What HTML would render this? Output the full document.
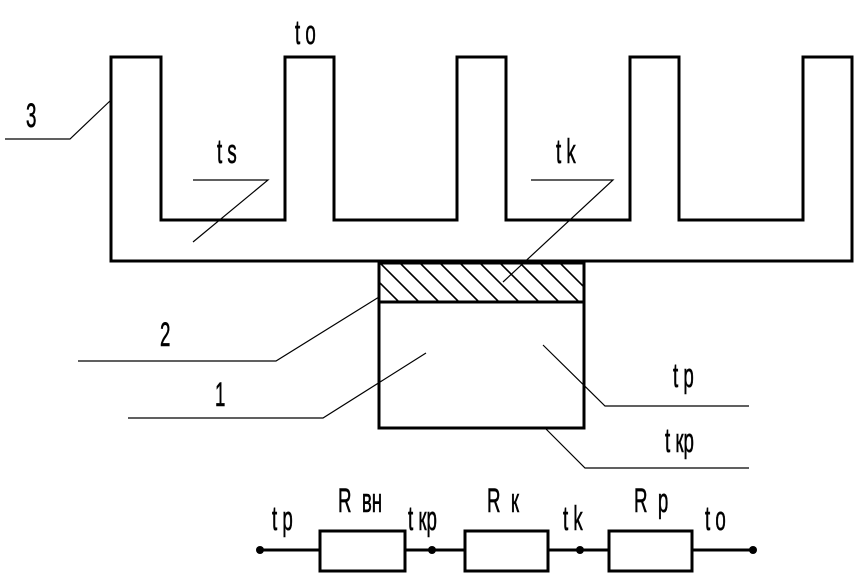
<!DOCTYPE html>
<html><head><meta charset="utf-8"><style>html,body{margin:0;padding:0;background:#fff}svg{display:block}text{font-family:"Liberation Sans",sans-serif;font-size:34px;fill:#000;stroke:#000;stroke-width:0.6;white-space:pre}</style></head><body>
<svg width="861" height="580" viewBox="0 0 861 580" xmlns="http://www.w3.org/2000/svg">
<defs><clipPath id="c"><rect x="379" y="263" width="205" height="39"/></clipPath></defs>
<path d="M111,57 H161 V220 H285 V57 H334 V220 H457 V57 H506 V220 H630 V57 H679 V220 H803 V57 H852 V261 H111 Z" fill="none" stroke="#000" stroke-width="3"/>
<g clip-path="url(#c)" stroke="#000" stroke-width="1.6">
<line x1="360" y1="263" x2="399" y2="302"/><line x1="380" y1="263" x2="419" y2="302"/><line x1="400" y1="263" x2="439" y2="302"/><line x1="420" y1="263" x2="459" y2="302"/><line x1="440" y1="263" x2="479" y2="302"/><line x1="460" y1="263" x2="499" y2="302"/><line x1="480" y1="263" x2="519" y2="302"/><line x1="500" y1="263" x2="539" y2="302"/><line x1="520" y1="263" x2="559" y2="302"/><line x1="540" y1="263" x2="579" y2="302"/><line x1="560" y1="263" x2="599" y2="302"/>
</g>
<rect x="379" y="263" width="205" height="165" fill="none" stroke="#000" stroke-width="3"/>
<line x1="379" y1="302" x2="584" y2="302" stroke="#000" stroke-width="3"/>
<g fill="none" stroke="#000" stroke-width="1.2">
<polyline points="5,139 70,139 111,100"/>
<polyline points="193,180 268,180 193,242"/>
<polyline points="531,180 613,180 503,282"/>
<polyline points="78,361 276,361 379,297"/>
<polyline points="128,418 323,418 426,353"/>
<polyline points="543,345 605,406 749,406"/>
<polyline points="545,428 585,468 749,468"/>
</g>
<line x1="260" y1="550" x2="753" y2="550" stroke="#000" stroke-width="3"/>
<g fill="#fff" stroke="#000" stroke-width="3">
<rect x="320" y="531" width="85" height="40"/><rect x="465" y="531" width="83" height="40"/><rect x="609" y="531" width="83" height="40"/>
</g>
<g fill="#000"><circle cx="260" cy="550" r="4"/><circle cx="432" cy="550" r="4"/><circle cx="580" cy="550" r="4"/><circle cx="753" cy="550" r="4"/></g>
<text transform="translate(26,127) scale(0.55,1)">3</text>
<text transform="translate(295,44) scale(0.55,1)">t o</text>
<text transform="translate(217,163) scale(0.55,1)">t s</text>
<text transform="translate(556,163) scale(0.55,1)">t k</text>
<text transform="translate(160,346) scale(0.55,1)">2</text>
<text transform="translate(215,406) scale(0.55,1)">1</text>
<text transform="translate(673,387) scale(0.55,1)">t p</text>
<text transform="translate(665,452) scale(0.55,1)">t кр</text>
<text transform="translate(272,530) scale(0.55,1)">t p</text>
<text transform="translate(338,512) scale(0.55,1)">R  вн</text>
<text transform="translate(408,530) scale(0.55,1)">t кр</text>
<text transform="translate(487,512) scale(0.55,1)">R  к</text>
<text transform="translate(563,530) scale(0.55,1)">t k</text>
<text transform="translate(634,512) scale(0.55,1)">R  p</text>
<text transform="translate(705,530) scale(0.55,1)">t o</text>
</svg>
</body></html>
